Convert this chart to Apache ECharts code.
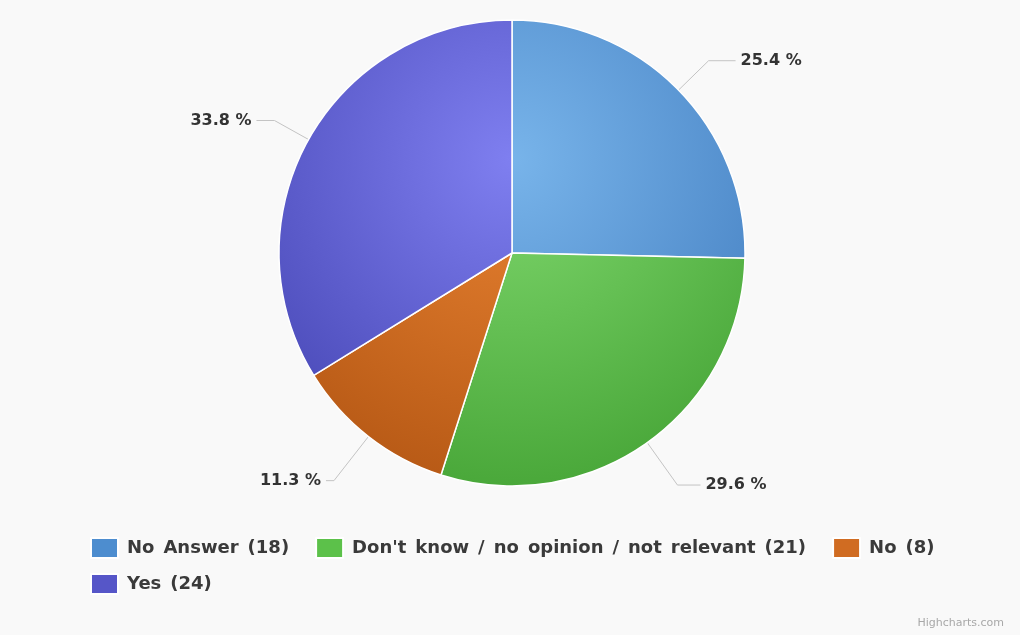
<!DOCTYPE html>
<html>
<head>
<meta charset="utf-8">
<script src="https://cdn.jsdelivr.net/npm/echarts@6/dist/echarts.min.js"></script>
<style>
  html, body { margin: 0; padding: 0; background: #f9f9f9; }
  #chart { width: 1020px; height: 635px; }
</style>
</head>
<body>
<div id="chart"></div>
<script>
// Survey answers (counts)
const categories = ['No Answer', "Don't know / no opinion / not relevant", 'No', 'Yes'];
const counts = [18, 21, 8, 24];

// Slice colours: light centre tone and darker rim tone
const lightColors = ['#78b4ea', '#80d86e', '#e98332', '#7f7ff0'];
const darkColors  = ['#4580c2', '#4aa83a', '#b85a16', '#4a4ab8'];
const legendColors = ['#4d8dcf', '#5cc14a', '#d06c22', '#5656c8'];

// Connector shape per slice (same order as categories): radial run, then horizontal run
const connRadial = [42, 52, 56, 39];
const connFlat   = [27, 23, 8, 18];

const cx = 512, cy = 253, radius = 233;

const chart = echarts.init(document.getElementById('chart'), null, { renderer: 'canvas' });

const total = counts.reduce((a, b) => a + b, 0);

// mid angle of every slice, clockwise from 12 o'clock
const midAngles = [];
(function () {
  let acc = 0;
  counts.forEach(v => {
    midAngles.push((acc + v / 2) / total * Math.PI * 2);
    acc += v;
  });
})();

const seriesData = categories.map((name, i) => ({
  name: name,
  value: counts[i],
  itemStyle: {
    color: new echarts.graphic.RadialGradient(cx, cy - radius * 0.4, radius * 1.4, [
      { offset: 0, color: lightColors[i] },
      { offset: 1, color: darkColors[i] }
    ], true)
  }
}));

const legendText = {
  fontFamily: 'DejaVu Sans',
  fontWeight: 'bold',
  fontSize: 18,
  color: '#3a3a3a',
  padding: [0, 0, 0, 4]
};

function legendBlock(names, top) {
  return {
    left: 90,
    top: top,
    padding: 0,
    orient: 'horizontal',
    itemWidth: 27,
    itemHeight: 20,
    itemGap: 26,
    icon: 'rect',
    textStyle: legendText,
    formatter: function (name) {
      const i = categories.indexOf(name);
      // slightly wider word spacing
      return (name + ' (' + counts[i] + ')').replace(/ /g, '\u2002');
    },
    data: names.map(name => ({
      name: name,
      itemStyle: { color: legendColors[categories.indexOf(name)] }
    }))
  };
}

chart.setOption({
  backgroundColor: '#f9f9f9',
  animation: false,
  legend: [
    legendBlock(categories.slice(0, 3), 537),
    legendBlock(categories.slice(3), 573)
  ],
  graphic: [{
    type: 'text',
    right: 16,
    bottom: 6,
    style: {
      text: 'Highcharts.com',
      fontFamily: 'DejaVu Sans',
      fontSize: 11,
      fill: '#a8a8a8'
    }
  }],
  series: [{
    type: 'pie',
    center: [cx, cy],
    radius: radius,
    startAngle: 90,
    clockwise: true,
    avoidLabelOverlap: false,
    itemStyle: { borderColor: '#ffffff', borderWidth: 1.5 },
    label: {
      show: true,
      position: 'outside',
      fontFamily: 'DejaVu Sans',
      fontWeight: 'bold',
      fontSize: 16,
      color: '#333333',
      formatter: function (p) {
        return (p.value / total * 100).toFixed(1) + ' %';
      }
    },
    labelLine: {
      show: true,
      lineStyle: { color: '#c4c4c4', width: 1 }
    },
    labelLayout: function (params) {
      const i = params.dataIndex;
      const a = midAngles[i];
      const ux = Math.sin(a), uy = -Math.cos(a);
      const ex = cx + radius * ux, ey = cy + radius * uy;
      const bx = ex + connRadial[i] * ux, by = ey + connRadial[i] * uy;
      const side = ux >= 0 ? 1 : -1;
      const tx = bx + side * connFlat[i];
      return {
        x: tx + side * 5,
        y: by,
        align: side > 0 ? 'left' : 'right',
        verticalAlign: 'middle',
        labelLinePoints: [[ex, ey], [bx, by], [tx, by]]
      };
    },
    emphasis: { disabled: true },
    data: seriesData
  }]
});
</script>
</body>
</html>
